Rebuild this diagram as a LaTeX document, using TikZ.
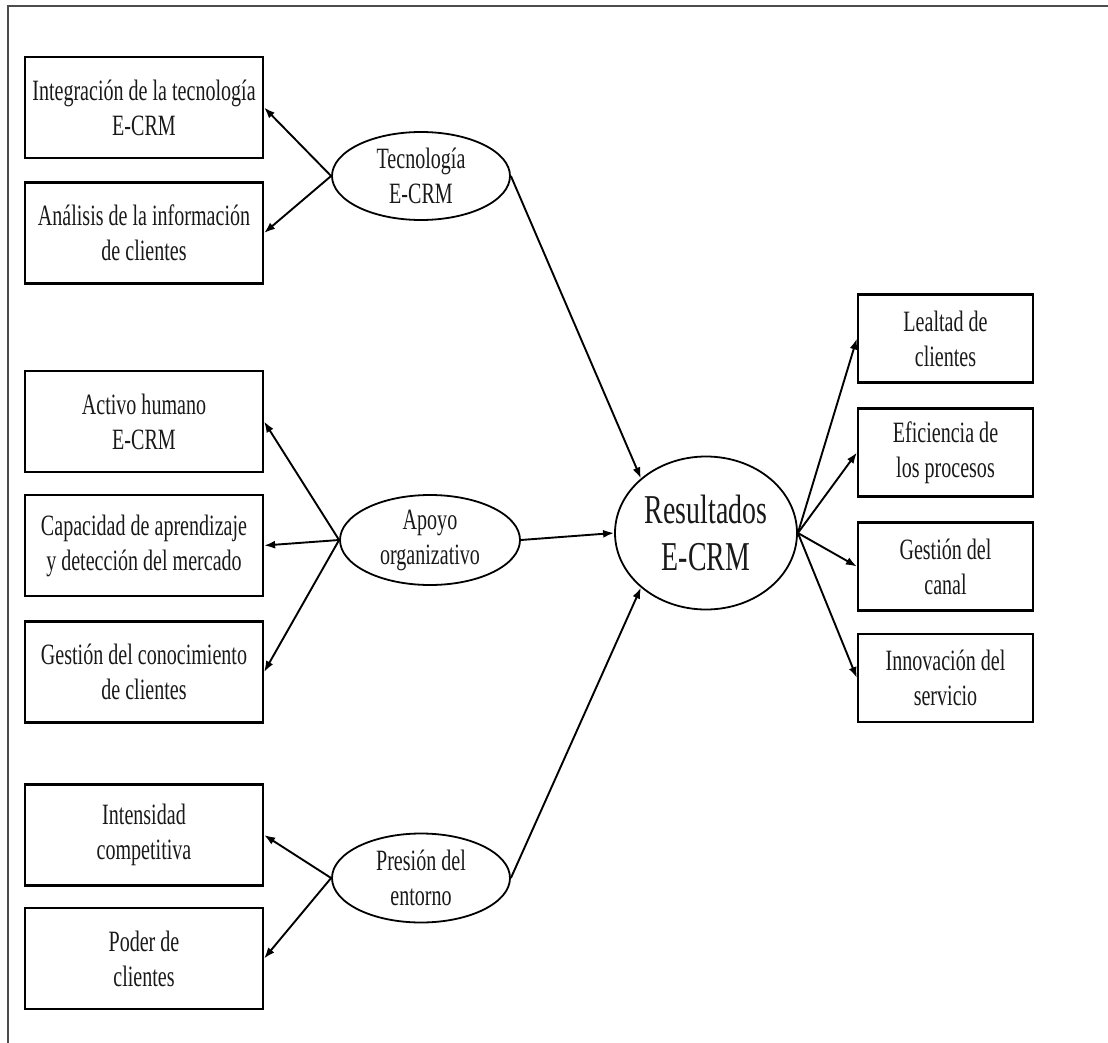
\documentclass[tikz,border=0pt]{standalone}
\usepackage{fontspec}
\setmainfont{Liberation Serif}
\newfontfamily\figfont[FakeStretch=0.68]{Liberation Serif}
\usetikzlibrary{arrows.meta,shapes.geometric}
\begin{document}
\begin{tikzpicture}[x=1pt,y=-1pt,
  every node/.style={text=black!90},
  box/.style={draw, line width=2.2pt, inner sep=0pt, align=center,
    minimum width=238pt, minimum height=101pt,
    font=\figfont\fontsize{29.5}{35}\selectfont},
  rbox/.style={box, minimum width=175pt, minimum height=88pt},
  construct/.style={draw, ellipse, line width=1.8pt, inner sep=0pt, align=center,
    minimum width=178pt, minimum height=88pt,
    font=\figfont\fontsize{29.5}{35}\selectfont},
  link/.style={line width=1.9pt, -{Latex[length=11pt,width=8pt]}}]
\useasboundingbox (0,0) rectangle (1108,1043);
% frame
\draw[line width=2.4pt, black!70] (8,1043) -- (8,6) -- (1108,6);

% left-hand indicator boxes
\node[box] (b1) at (144,107.5) {Integración de la tecnología\\E-CRM};
\node[box] (b2) at (144,233) {Análisis de la información\\de clientes};
\node[box] (b3) at (144,421.5) {Activo humano\\E-CRM};
\node[box] (b4) at (144,545.5) {Capacidad de aprendizaje\\y detección del mercado};
\node[box] (b5) at (144,672) {Gestión del conocimiento\\de clientes};
\node[box] (b6) at (144,835) {Intensidad\\competitiva};
\node[box] (b7) at (144,958.5) {Poder de\\clientes};

% constructs
\node[construct] (tec) at (421,176) {Tecnología\\E-CRM};
\node[construct, minimum width=180pt, minimum height=90pt] (apo) at (430,540) {Apoyo\\organizativo};
\node[construct, minimum height=89pt] (pre) at (421,878) {Presión del\\entorno};
\node[construct, minimum width=182pt, minimum height=153pt,
      font=\figfont\fontsize{41}{47}\selectfont] (res) at (706,533) {Resultados\\E-CRM};

% right-hand outcome boxes
\node[rbox] (r1) at (945.5,338.5) {Lealtad de\\clientes};
\node[rbox] (r2) at (945.5,452.5) {Eficiencia de\\los procesos};
\node[rbox] (r3) at (945.5,566.5) {Gestión del\\canal};
\node[rbox] (r4) at (945.5,678) {Innovación del\\servicio};

% measurement arrows
\draw[link] (tec.west) -- (b1.east);
\draw[link] (tec.west) -- (b2.east);
\draw[link] (apo.west) -- (b3.east);
\draw[link] (apo.west) -- (b4.east);
\draw[link] (apo.west) -- (b5.east);
\draw[link] (pre.west) -- (b6.east);
\draw[link] (pre.west) -- (b7.east);

% structural arrows
\draw[link] (tec.east) -- (res.140);
\draw[link] (apo.east) -- (res.west);
\draw[link] (pre.east) -- (res.220);

\draw[link] (res.east) -- (r1.west);
\draw[link] (res.east) -- (r2.west);
\draw[link] (res.east) -- (r3.west);
\draw[link] (res.east) -- (r4.west);
\end{tikzpicture}
\end{document}
